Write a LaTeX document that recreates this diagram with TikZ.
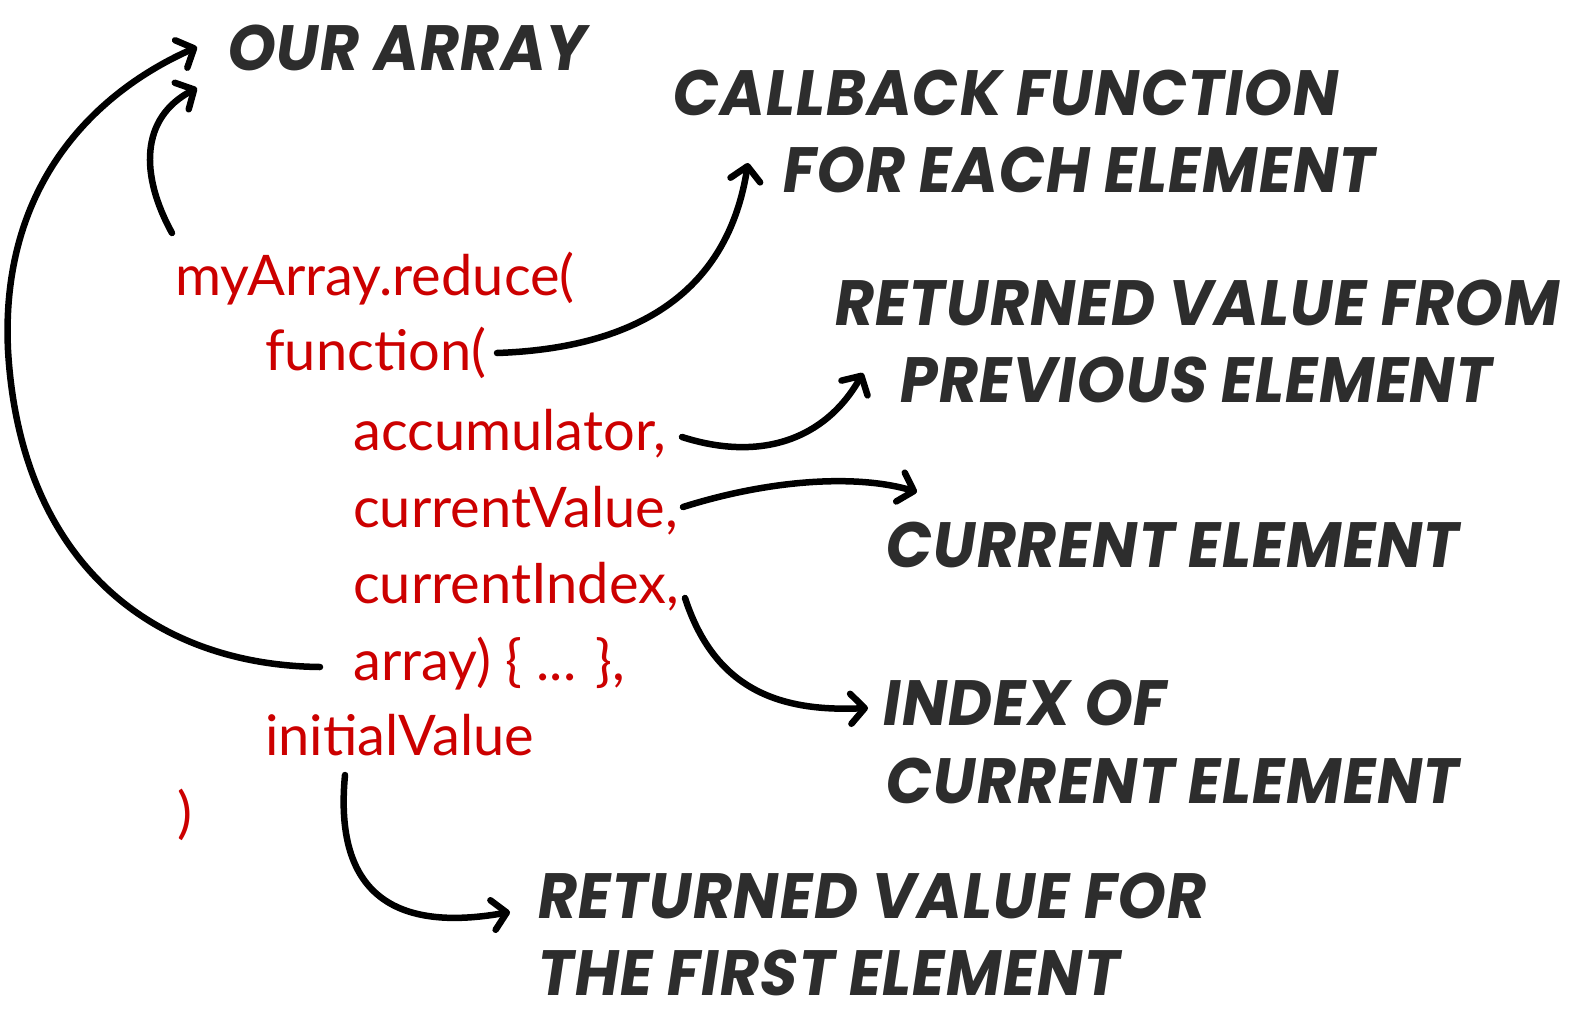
\documentclass[tikz,border=0pt]{standalone}
\usepackage{fontspec}
\usetikzlibrary{arrows.meta}
\newfontfamily\headfont{Poppins}[FakeSlant=0.15,FakeStretch=0.95,LetterSpace=1.5]
\newfontfamily\codefont{Lato}
\definecolor{headcol}{HTML}{2D2D2D}
\definecolor{codecol}{HTML}{CC0000}
\tikzset{
  head/.style={anchor=base west,inner sep=0pt,text=headcol,font=\headfont\bfseries\fontsize{64}{70}\selectfont},
  code/.style={anchor=base west,inner sep=0pt,text=codecol,font=\codefont\fontsize{56}{60}\selectfont},
  arr/.style={line width=6.5pt,line cap=round,-{Straight Barb[length=14pt,width=30pt,line width=6.5pt,round]}}
}
\begin{document}
\begin{tikzpicture}[x=1pt,y=-1pt]
\useasboundingbox[fill=white] (0,0) rectangle (1587,1020);
% headings
\node[head] (ourarray) at (225,70) {OUR ARRAY};
\node[head] (cb1) at (670,115) {CALLBACK FUNCTION};
\node[head] (cb2) at (780,192) {FOR EACH ELEMENT};
\node[head] (rv1) at (832,325) {RETURNED VALUE FROM};
\node[head] (rv2) at (897,402) {PREVIOUS ELEMENT};
\node[head] (ce) at (883,567) {CURRENT ELEMENT};
\node[head] (ix1) at (880,725) {INDEX OF};
\node[head] (ix2) at (883,803) {CURRENT ELEMENT};
\node[head] (fv1) at (535,918) {RETURNED VALUE FOR};
\node[head] (fv2) at (535,995) {THE FIRST ELEMENT};
% code
\node[code] (reduce) at (175,295) {myArray.reduce(};
\node[code] (func) at (265,370) {function(};
\node[code] (acc) at (353,450) {accumulator,};
\node[code] (cur) at (353,527) {currentValue,};
\node[code] (idx) at (353,603) {currentIndex,};
\node[code] (arrv) at (353,680) {array) \{ ... \},};
\node[code] (init) at (265,755) {initialValue};
\node[code] (close) at (177,832) {)};
% connector ends
\coordinate (a1s) at (320,667);
\coordinate (a1e) at (197,47);
\coordinate (a2s) at (172,233);
\coordinate (a2e) at (197,88);
\coordinate (a3s) at (497,353);
\coordinate (a3e) at (748,163);
\coordinate (a4s) at (682,437);
\coordinate (a4e) at (863,373);
\coordinate (a5s) at (683,507);
\coordinate (a5e) at (917,492);
\coordinate (a6s) at (685,598);
\coordinate (a6e) at (868,708);
\coordinate (a7s) at (345,775);
\coordinate (a7e) at (510,912);
% connectors
\draw[arr] (a1s) .. controls (150,665) and (20,560) .. (8,350) .. controls (0,180) and (100,90) .. (a1e);
\draw[arr] (a2s) .. controls (140,175) and (140,118) .. (a2e);
\draw[arr] (a3s) .. controls (640,348) and (728,290) .. (a3e);
\draw[arr] (a4s) .. controls (760,462) and (825,440) .. (a4e);
\draw[arr] (a5s) .. controls (775,478) and (860,475) .. (a5e);
\draw[arr] (a6s) .. controls (715,690) and (780,712) .. (a6e);
\draw[arr] (a7s) .. controls (335,880) and (380,935) .. (a7e);
\end{tikzpicture}
\end{document}
